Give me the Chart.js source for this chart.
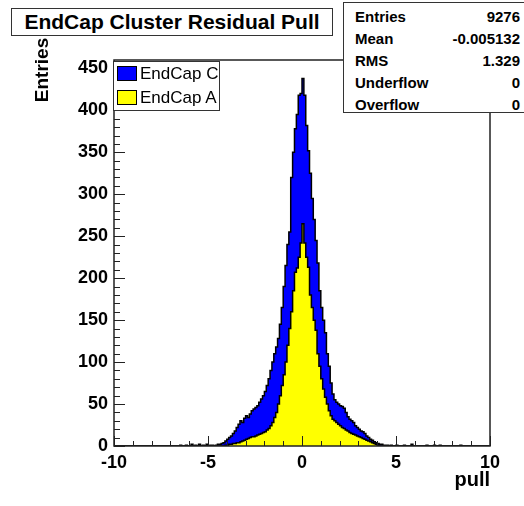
<!DOCTYPE html>
<html>
<head>
<meta charset="utf-8">
<script src="https://cdn.jsdelivr.net/npm/chart.js@4.4.1/dist/chart.umd.min.js"></script>
<style>
  html, body { margin: 0; padding: 0; background: #fff; }
  #wrap {
    position: relative; width: 524px; height: 506px; overflow: hidden;
    font-family: "Liberation Sans", Arial, Helvetica, sans-serif; color: #000;
  }
  #chart { position: absolute; left: 0; top: 0; }
  .box { position: absolute; background: #fff; border: 1.5px solid #333; box-sizing: border-box; }
  #title { left: 11px; top: 8px; width: 322px; height: 28px; font-weight: bold; font-size: 21px; line-height: 25px; text-align: center; }
  #stats { left: 343px; top: 2px; width: 186px; height: 111px; border-width: 1px; padding: 3px 8px 0 11px; font-weight: bold; font-size: 15px; }
  #stats .row { display: flex; justify-content: space-between; height: 22px; line-height: 22px; }
  #legend { left: 113px; top: 61px; width: 107px; height: 50px; border-width: 1px; font-size: 17px; }
  #legend .item { position: absolute; left: 3px; height: 20px; line-height: 20px; white-space: nowrap; }
  #legend .swatch { display: inline-block; width: 20px; height: 15px; border: 1px solid #000; box-sizing: border-box; vertical-align: -2px; margin-right: 3px; }
  #ytitle { position: absolute; left: 42px; top: 70px; transform: translate(-50%, -50%) rotate(-90deg); font-weight: bold; font-size: 19px; white-space: nowrap; }
</style>
</head>
<body>
<div id="wrap">
  <canvas id="chart" width="524" height="506"></canvas>
  <div id="ytitle"></div>
  <div id="title" class="box"></div>
  <div id="stats" class="box"></div>
  <div id="legend" class="box"></div>
</div>
<script>
// histogram binning: 200 bins of 0.1 from -10 to 10
const binLow = -10;
const binWidth = 0.1;
const xTicks = [-10, -5, 0, 5, 10];
const yTicks = [0, 50, 100, 150, 200, 250, 300, 350, 400, 450];

// EndCap A (bottom of the stack, yellow)
const endcapA = [
  0, 0, 0, 0, 0, 0, 0, 0, 0, 0,
  0, 0, 0, 0, 0, 0, 0, 0, 0, 0,
  0, 0, 0, 0, 0, 0, 0, 0, 0, 0,
  0, 0, 0, 0, 0, 0, 0, 0, 0, 0,
  0, 0, 0, 0, 0, 0, 0, 0, 0, 0,
  0, 0, 0, 0, 0, 0, 0, 0, 0, 1,
  1, 2, 2, 3, 3, 4, 4, 5, 6, 7,
  8, 9, 10, 11, 11, 12, 13, 14, 15, 16,
  17, 19, 21, 24, 28, 34, 40, 50, 60, 72,
  85, 100, 120, 140, 160, 185, 207, 212, 225, 242,
  265, 242, 225, 213, 180, 165, 150, 138, 110, 95,
  80, 68, 58, 50, 42, 36, 32, 30, 28, 26,
  24, 22, 21, 19, 18, 16, 15, 14, 13, 12,
  11, 10, 9, 8, 7, 6, 5, 4, 3, 2,
  1, 0, 0, 0, 0, 0, 0, 0, 0, 0,
  0, 0, 0, 0, 0, 0, 0, 0, 0, 0,
  0, 0, 0, 0, 0, 0, 0, 0, 0, 0,
  0, 0, 0, 0, 0, 0, 0, 0, 0, 0,
  0, 0, 0, 0, 0, 0, 0, 0, 0, 0,
  0, 0, 0, 0, 0, 0, 0, 0, 0, 0
];

// EndCap C (stacked on top of A, blue)
const endcapC = [
  0, 0, 0, 0, 0, 0, 0, 0, 0, 0,
  0, 0, 0, 0, 0, 0, 0, 0, 0, 0,
  0, 0, 0, 0, 0, 0, 0, 0, 0, 0,
  0, 0, 0, 0, 0, 1, 0, 0, 1, 0,
  0, 2, 0, 1, 0, 2, 0, 1, 0, 2,
  0, 1, 1, 0, 1, 2, 2, 3, 4, 5,
  7, 8, 10, 12, 15, 18, 22, 25, 22, 26,
  28, 25, 28, 31, 33, 34, 35, 38, 41, 44,
  48, 53, 59, 66, 72, 76, 78, 78, 85, 93,
  105, 115, 120, 115, 160, 165, 171, 183, 193, 178,
  173, 176, 157, 139, 145, 130, 120, 107, 108, 90,
  85, 82, 77, 60, 53, 39, 30, 25, 24, 24,
  24, 25, 24, 21, 17, 16, 15, 14, 11, 10,
  9, 8, 8, 7, 5, 4, 3, 3, 2, 2,
  2, 2, 2, 1, 1, 1, 0, 1, 0, 0,
  1, 0, 0, 0, 1, 0, 0, 0, 2, 0,
  0, 0, 0, 0, 0, 0, 1, 0, 0, 0,
  1, 0, 0, 1, 0, 0, 0, 0, 0, 0,
  0, 0, 0, 0, 1, 0, 0, 0, 0, 0,
  0, 0, 0, 0, 0, 0, 0, 0, 0, 0
];

const statsLabels = ["Entries", "Mean", "RMS", "Underflow", "Overflow"];
const statsValues = ["9276", "-0.005132", "1.329", "0", "0"];

const chartTitle = "EndCap Cluster Residual Pull";
const xTitle = "pull";
const yTitle = "Entries";
const legendNames = ["EndCap C", "EndCap A"];
const legendColors = ["#0000ff", "#ffff00"];

const FONT = '"Liberation Sans", Arial, Helvetica, sans-serif';

// turn bin contents into step points at the low edge of each bin
const toSteps = (values) => {
  const pts = values.map((v, i) => ({ x: Math.round((binLow + i * binWidth) * 10) / 10, y: v }));
  pts.push({ x: binLow + values.length * binWidth, y: 0 });
  return pts;
};

const stackTotal = endcapA.map((v, i) => v + endcapC[i]);

// ROOT style frame with inward ticks
const framePlugin = {
  id: "rootFrame",
  afterDatasetsDraw(chart) {
    const { ctx, chartArea: a, scales: { x, y } } = chart;
    ctx.save();
    ctx.strokeStyle = "#222";
    ctx.lineWidth = 1;
    ctx.beginPath();
    for (let v = 0; v <= 450; v += 10) {
      const py = Math.round(y.getPixelForValue(v)) + 0.5;
      const len = v % 50 === 0 ? 11 : 6;
      ctx.moveTo(a.left, py);
      ctx.lineTo(a.left + len, py);
    }
    for (let v = -10; v <= 10; v += 1) {
      const px = Math.round(x.getPixelForValue(v)) + 0.5;
      const len = v % 5 === 0 ? 10 : 5;
      ctx.moveTo(px, a.bottom);
      ctx.lineTo(px, a.bottom - len);
    }
    ctx.stroke();
    ctx.lineWidth = 1.5;
    ctx.strokeRect(a.left, a.top, a.right - a.left, a.bottom - a.top);
    ctx.restore();
  },
};

const ctx = document.getElementById("chart").getContext("2d");
new Chart(ctx, {
  type: "line",
  data: {
    datasets: [
      {
        label: legendNames[1],
        data: toSteps(endcapA),
        backgroundColor: legendColors[1],
        borderColor: "#000",
        borderWidth: 1.5,
        fill: "origin",
        stepped: "before",
        pointRadius: 0,
        order: 1,
      },
      {
        label: legendNames[0],
        data: toSteps(stackTotal),
        backgroundColor: legendColors[0],
        borderColor: "#000",
        borderWidth: 1.5,
        fill: "origin",
        stepped: "before",
        pointRadius: 0,
        order: 2,
      },
    ],
  },
  options: {
    responsive: false,
    animation: false,
    layout: { padding: { top: 60, right: 34, left: 0, bottom: 0 } },
    plugins: { legend: { display: false }, tooltip: { enabled: false } },
    scales: {
      x: {
        type: "linear",
        min: -10,
        max: 10,
        afterBuildTicks: (s) => { s.ticks = xTicks.map((v) => ({ value: v })); },
        afterFit: (s) => { s.height = 60; },
        grid: { display: false, drawTicks: false },
        border: { display: false },
        ticks: { color: "#000", padding: 6, maxRotation: 0, font: { family: FONT, size: 18, weight: "bold" } },
        title: {
          display: true,
          text: xTitle,
          align: "end",
          color: "#000",
          font: { family: FONT, size: 20, weight: "bold" },
          padding: { top: 0, bottom: 14 },
        },
      },
      y: {
        min: 0,
        max: 460,
        afterBuildTicks: (s) => { s.ticks = yTicks.map((v) => ({ value: v })); },
        afterFit: (s) => { s.width = 114; },
        grid: { display: false, drawTicks: false },
        border: { display: false },
        ticks: { color: "#000", padding: 6, font: { family: FONT, size: 18, weight: "bold" } },
      },
    },
  },
  plugins: [framePlugin],
});

// overlays: title box, stats box, legend, y axis title
document.getElementById("title").textContent = chartTitle;
document.getElementById("ytitle").textContent = yTitle;

const stats = document.getElementById("stats");
statsLabels.forEach((lab, i) => {
  const row = document.createElement("div");
  row.className = "row";
  row.innerHTML = "<span>" + lab + "</span><span>" + statsValues[i] + "</span>";
  stats.appendChild(row);
});

const legend = document.getElementById("legend");
legendNames.forEach((name, i) => {
  const item = document.createElement("div");
  item.className = "item";
  item.style.top = (2 + i * 24) + "px";
  item.innerHTML = '<span class="swatch" style="background:' + legendColors[i] + '"></span>' + name;
  legend.appendChild(item);
});
</script>
</body>
</html>
